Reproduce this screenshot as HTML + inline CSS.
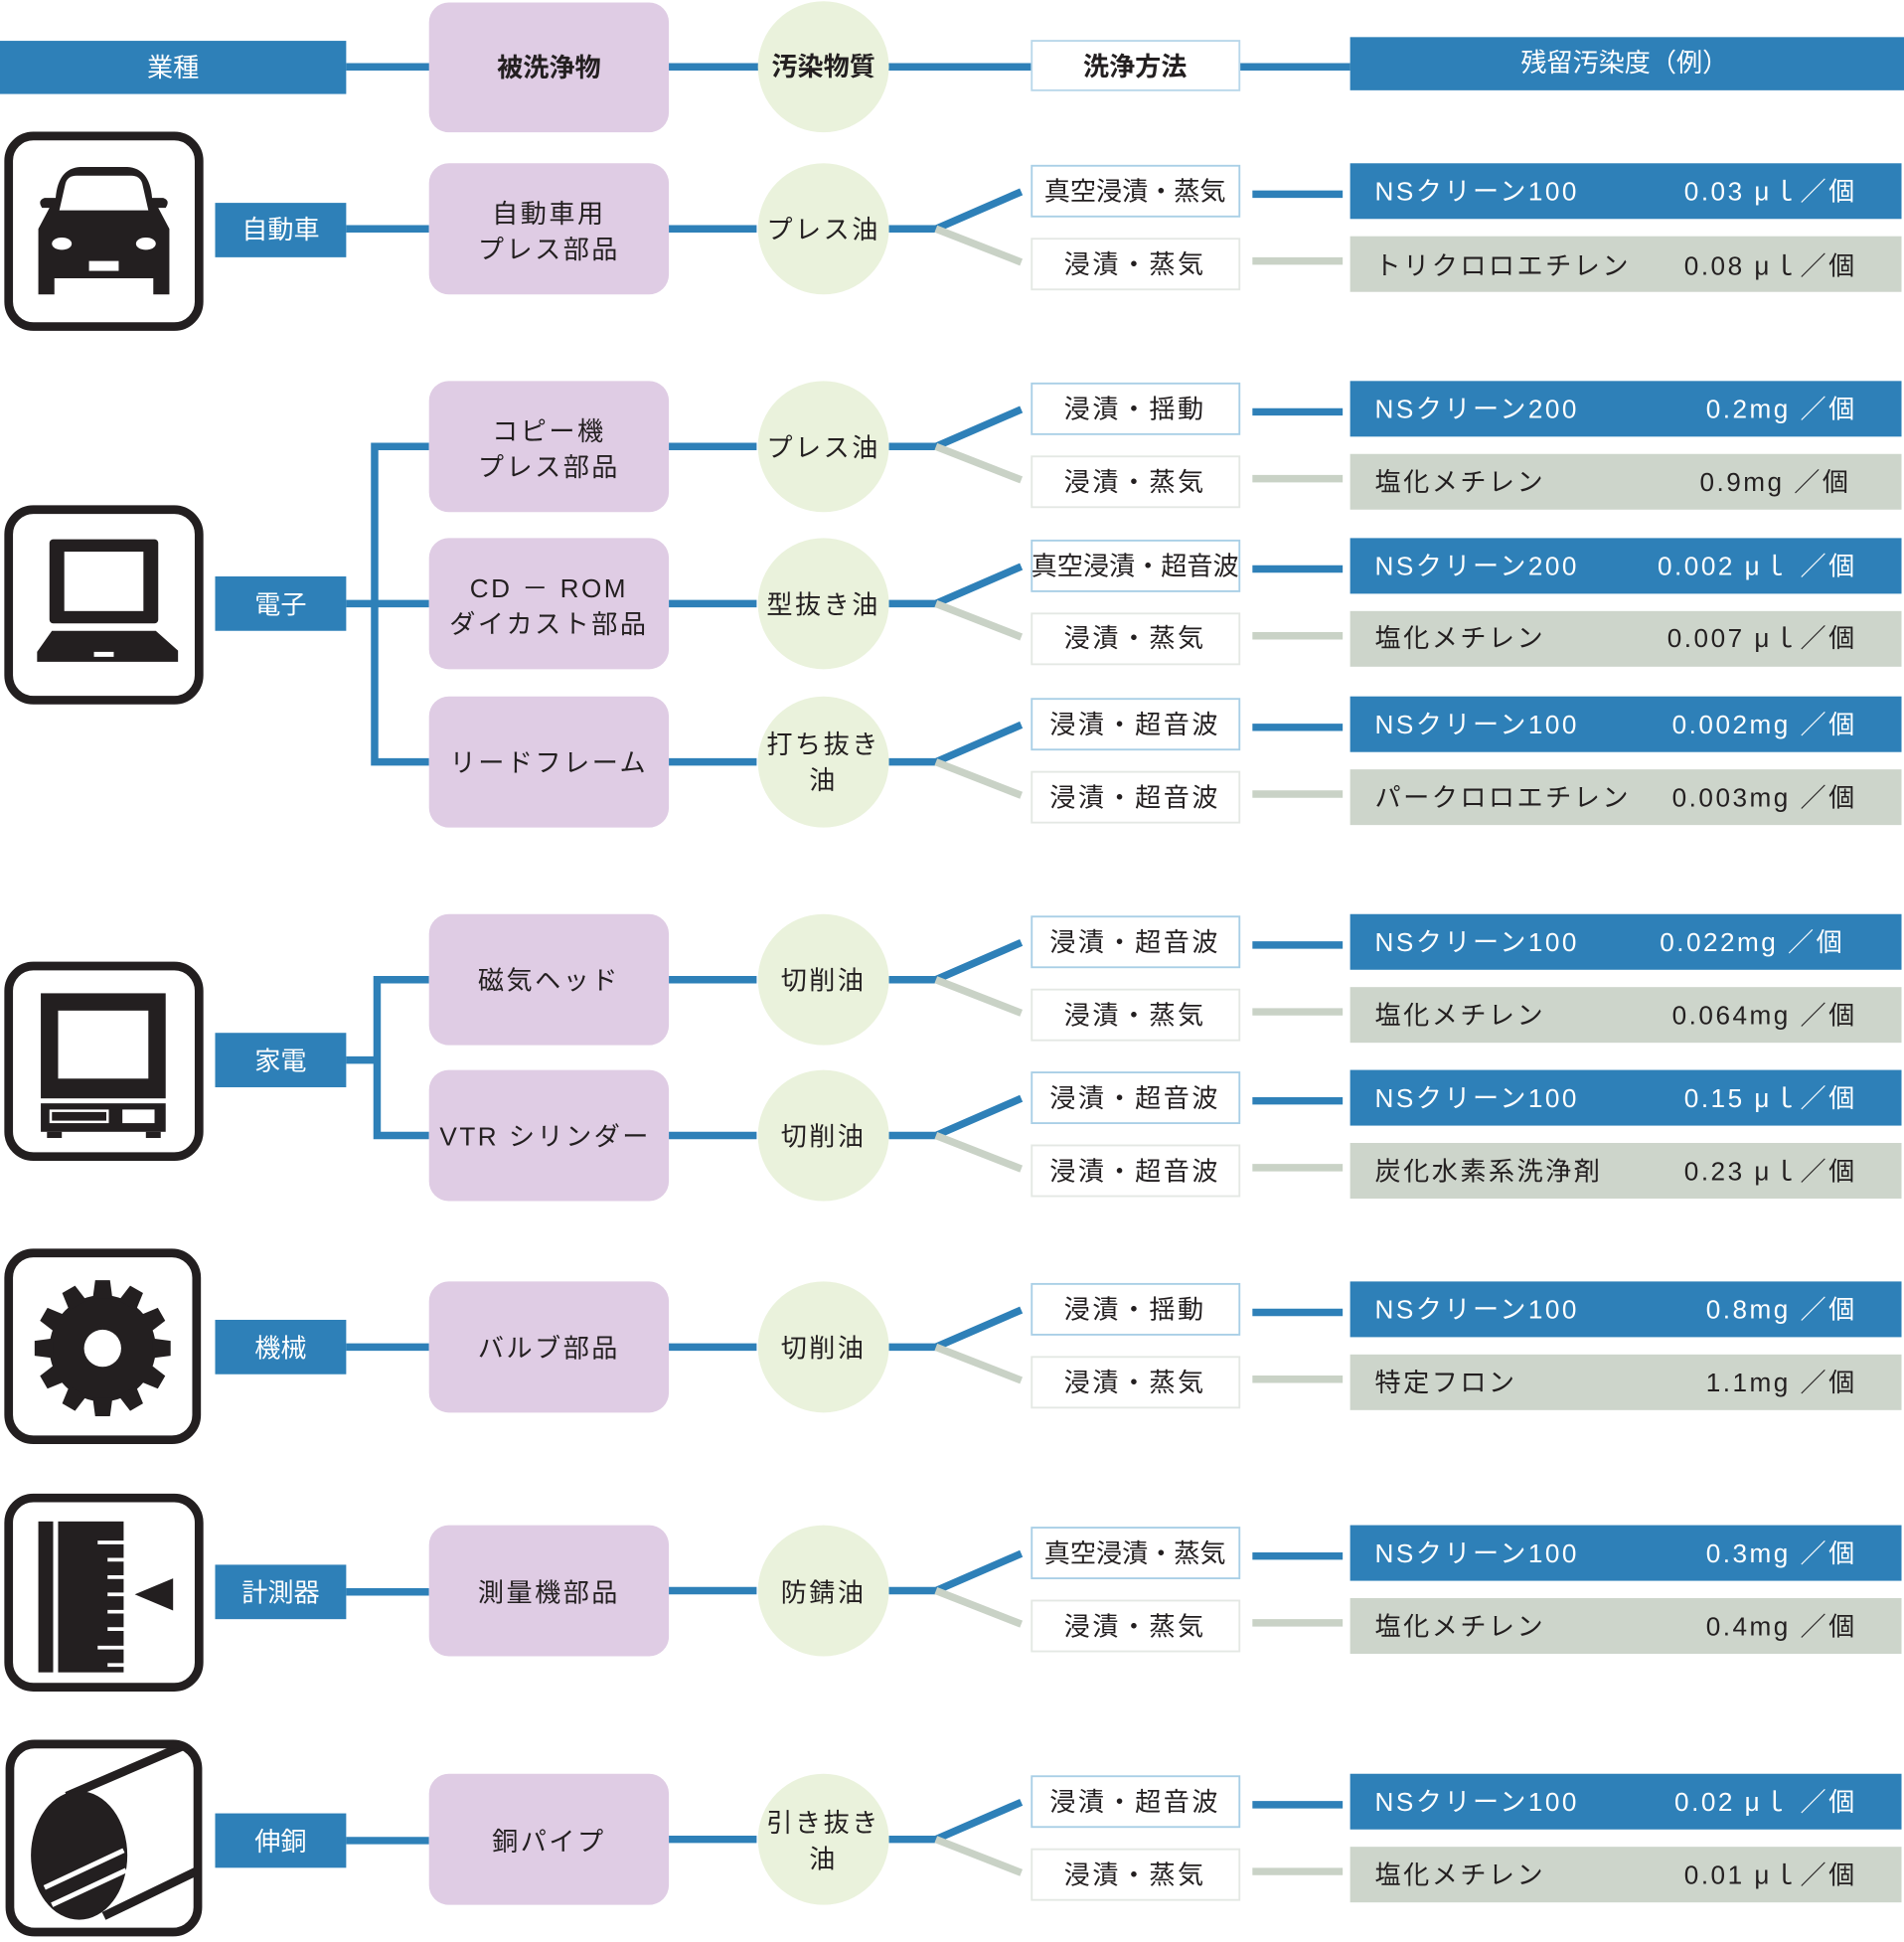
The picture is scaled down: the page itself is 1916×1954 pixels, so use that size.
<!DOCTYPE html>
<html><head><meta charset="utf-8"><style>
html,body{margin:0;padding:0;background:#fff;}
svg{display:block;}
text{font-family:"Liberation Sans","Noto Sans CJK JP",sans-serif;font-size:21px;fill:#231f20;}
.w{fill:#fff;}
.c{text-anchor:middle;}
.b{font-weight:bold;}
.ls{letter-spacing:2px;}
</style></head><body>
<svg width="1916" height="1954" viewBox="0 0 1540 1570" preserveAspectRatio="none" xmlns="http://www.w3.org/2000/svg">
<defs>
<g id="row">
  <rect x="347" y="-53" width="194" height="106" rx="16" fill="#dfcce4"/>
  <line x1="541" y1="0" x2="612" y2="0" stroke="#2e80b8" stroke-width="6"/>
  <circle cx="666" cy="0" r="53" fill="#eaf2dc"/>
  <polyline points="719,0 757,0 826,-30" fill="none" stroke="#2e80b8" stroke-width="6"/>
  <line x1="757" y1="0" x2="826" y2="27" stroke="#c9d2c6" stroke-width="6"/>
  <rect x="834.5" y="-51" width="168" height="41" fill="#fff" stroke="#a9cfe6" stroke-width="1.5"/>
  <rect x="834.5" y="8" width="168" height="41" fill="#fff" stroke="#e4e8e4" stroke-width="1.5"/>
  <line x1="1013" y1="-28" x2="1086" y2="-28" stroke="#2e80b8" stroke-width="6"/>
  <line x1="1013" y1="26" x2="1086" y2="26" stroke="#c9d2c6" stroke-width="6"/>
  <rect x="1092" y="-53" width="446" height="45" fill="#2e80b8"/>
  <rect x="1092" y="6" width="446" height="45" fill="#cdd5cb"/>
</g>
<clipPath id="pc"><rect x="10" y="1413" width="147" height="146" rx="17"/></clipPath>
</defs>

<!-- header -->
<line x1="280" y1="54" x2="1092" y2="54" stroke="#2e80b8" stroke-width="6"/>
<rect x="0" y="33" width="280" height="43" fill="#2e80b8"/>
<text x="140" y="62" class="w c">業種</text>
<rect x="347" y="2" width="194" height="105" rx="16" fill="#dfcce4"/>
<text x="444" y="62" class="c b">被洗浄物</text>
<circle cx="666" cy="54" r="53" fill="#eaf2dc"/>
<text x="666" y="61" class="c b">汚染物質</text>
<rect x="834.5" y="33" width="168" height="40" fill="#fff" stroke="#b9d7ea" stroke-width="1.5"/>
<text x="918" y="61" class="c b">洗浄方法</text>
<rect x="1092" y="30" width="448" height="43" fill="#2e80b8"/>
<text x="1314" y="58" class="w c">残留汚染度（例）</text>

<!-- industry labels & brackets -->
<g stroke="#2e80b8" stroke-width="6" fill="none">
<line x1="280" y1="185" x2="347" y2="185"/>
<polyline points="280,488 347,488"/>
<polyline points="347,361 303,361 303,616 347,616"/>
<line x1="280" y1="857" x2="305" y2="857"/>
<polyline points="347,792 305,792 305,918 347,918"/>
<line x1="280" y1="1089" x2="347" y2="1089"/>
<line x1="280" y1="1287" x2="347" y2="1287"/>
<line x1="280" y1="1488" x2="347" y2="1488"/>
</g>
<rect x="174" y="164" width="106" height="44" fill="#2e80b8"/><text x="227" y="193" class="w c">自動車</text>
<rect x="174" y="466" width="106" height="44" fill="#2e80b8"/><text x="227" y="496" class="w c">電子</text>
<rect x="174" y="835" width="106" height="44" fill="#2e80b8"/><text x="227" y="865" class="w c">家電</text>
<rect x="174" y="1067" width="106" height="44" fill="#2e80b8"/><text x="227" y="1097" class="w c">機械</text>
<rect x="174" y="1265" width="106" height="44" fill="#2e80b8"/><text x="227" y="1295" class="w c">計測器</text>
<rect x="174" y="1466" width="106" height="44" fill="#2e80b8"/><text x="227" y="1496" class="w c">伸銅</text>

<!-- car -->
<path d="M45,160 Q47,136 65,135 L103,135 Q121,136 123,160 L132,160 Q138,162 134,168 L128,168 L137,185 L137,238 L124,238 L124,225 L44,225 L44,238 L31,238 L31,185 L40,168 L34,168 Q30,162 36,160 Z" fill="#231f20"/>
<path d="M48,170 L53,148 Q55,142 62,142 L106,142 Q113,142 115,148 L120,170 Z" fill="#fff"/>
<ellipse cx="50" cy="197" rx="8" ry="5" fill="#fff"/><ellipse cx="118" cy="197" rx="8" ry="5" fill="#fff"/>
<rect x="72" y="211" width="24" height="8" fill="#fff"/>
<!-- laptop -->
<rect x="40" y="436" width="88" height="68" rx="3" fill="#231f20"/>
<rect x="52" y="446" width="64" height="48" fill="#fff"/>
<path d="M42,510 L126,510 L144,526 L144,535 L30,535 L30,527 Z" fill="#231f20"/>
<rect x="76" y="527" width="16" height="4" fill="#fff"/>
<!-- TV -->
<rect x="33" y="803" width="101" height="85" fill="#231f20"/>
<rect x="47" y="817" width="73" height="55" fill="#fff"/>
<rect x="33" y="892" width="101" height="23" fill="#231f20"/>
<rect x="41" y="898" width="46" height="9" fill="none" stroke="#fff" stroke-width="2"/>
<rect x="99" y="897" width="26" height="11" fill="#fff"/>
<rect x="38" y="915" width="12" height="5" fill="#231f20"/><rect x="118" y="915" width="12" height="5" fill="#231f20"/>
<!-- gear -->
<g transform="translate(83,1090)" fill="#231f20">
<circle r="43"/>
<g id="t"><polygon points="-8,-40 8,-40 6,-55 -6,-55"/></g>
<use href="#t" transform="rotate(30)"/><use href="#t" transform="rotate(60)"/><use href="#t" transform="rotate(90)"/><use href="#t" transform="rotate(120)"/><use href="#t" transform="rotate(150)"/><use href="#t" transform="rotate(180)"/><use href="#t" transform="rotate(210)"/><use href="#t" transform="rotate(240)"/><use href="#t" transform="rotate(270)"/><use href="#t" transform="rotate(300)"/><use href="#t" transform="rotate(330)"/>
<circle r="15" fill="#fff"/>
</g>
<!-- ruler -->
<rect x="31" y="1230" width="12" height="122" fill="#231f20"/>
<rect x="47" y="1230" width="53" height="122" fill="#231f20"/>
<g stroke="#fff" stroke-width="3">
<line x1="79" y1="1247" x2="101" y2="1247"/><line x1="87" y1="1261" x2="101" y2="1261"/><line x1="87" y1="1275" x2="101" y2="1275"/><line x1="87" y1="1289" x2="101" y2="1289"/><line x1="87" y1="1303" x2="101" y2="1303"/><line x1="87" y1="1317" x2="101" y2="1317"/><line x1="79" y1="1332" x2="101" y2="1332"/><line x1="87" y1="1346" x2="101" y2="1346"/>
</g>
<polygon points="109,1289 140,1276 140,1302" fill="#231f20"/>
<!-- pipe -->
<g clip-path="url(#pc)">
<polygon points="54,1452 136,1417 170,1417 170,1495 84,1549" fill="#fff"/>
<line x1="54" y1="1452" x2="175" y2="1400" stroke="#231f20" stroke-width="7"/>
<line x1="84" y1="1549" x2="175" y2="1505" stroke="#231f20" stroke-width="7"/>
</g>
<ellipse cx="64" cy="1500" rx="39" ry="52" fill="#231f20"/>
<line x1="36" y1="1526" x2="100" y2="1496" stroke="#fff" stroke-width="4"/>
<line x1="42" y1="1540" x2="102" y2="1512" stroke="#fff" stroke-width="4"/>

<!-- icon frames -->
<g fill="none" stroke="#231f20" stroke-width="7">
<rect x="7" y="110" width="154" height="154" rx="20"/>
<rect x="7" y="412" width="154" height="154" rx="20"/>
<rect x="7" y="781" width="154" height="154" rx="20"/>
<rect x="7" y="1013" width="152" height="151" rx="20"/>
<rect x="7" y="1211" width="154" height="153" rx="20"/>
<rect x="8" y="1410" width="152" height="152" rx="20"/>
</g>

<!-- rows -->
<use href="#row" y="185"/>
<use href="#row" y="361"/>
<use href="#row" y="488"/>
<use href="#row" y="616"/>
<use href="#row" y="792"/>
<use href="#row" y="918"/>
<use href="#row" y="1089"/>
<use href="#row" y="1286"/>
<use href="#row" y="1487"/>

<!-- row texts -->
<g class="ls">
<text x="444" y="180" class="c">自動車用</text><text x="444" y="209" class="c">プレス部品</text>
<text x="666" y="193" class="c">プレス油</text>
<text x="918" y="162" class="c" style="letter-spacing:0">真空浸漬・蒸気</text><text x="918" y="221" class="c">浸漬・蒸気</text>
<text x="1112" y="162" class="w">NSクリーン100</text><text x="1502" y="162" class="w" text-anchor="end">0.03 μｌ／個</text>
<text x="1112" y="222">トリクロロエチレン</text><text x="1502" y="222" text-anchor="end">0.08 μｌ／個</text>

<text x="444" y="356" class="c">コピー機</text><text x="444" y="385" class="c">プレス部品</text>
<text x="666" y="369" class="c">プレス油</text>
<text x="918" y="338" class="c">浸漬・揺動</text><text x="918" y="397" class="c">浸漬・蒸気</text>
<text x="1112" y="338" class="w">NSクリーン200</text><text x="1502" y="338" class="w" text-anchor="end">0.2mg ／個</text>
<text x="1112" y="397">塩化メチレン</text><text x="1497" y="397" text-anchor="end">0.9mg ／個</text>

<text x="444" y="483" class="c">CD － ROM</text><text x="444" y="512" class="c">ダイカスト部品</text>
<text x="666" y="496" class="c">型抜き油</text>
<text x="918" y="465" class="c" style="letter-spacing:0">真空浸漬・超音波</text><text x="918" y="523" class="c">浸漬・蒸気</text>
<text x="1112" y="465" class="w">NSクリーン200</text><text x="1502" y="465" class="w" text-anchor="end">0.002 μｌ ／個</text>
<text x="1112" y="523">塩化メチレン</text><text x="1502" y="523" text-anchor="end">0.007 μｌ／個</text>

<text x="444" y="624" class="c">リードフレーム</text>
<text x="666" y="609" class="c">打ち抜き</text><text x="666" y="638" class="c">油</text>
<text x="918" y="593" class="c">浸漬・超音波</text><text x="918" y="652" class="c">浸漬・超音波</text>
<text x="1112" y="593" class="w">NSクリーン100</text><text x="1502" y="593" class="w" text-anchor="end">0.002mg ／個</text>
<text x="1112" y="652">パークロロエチレン</text><text x="1502" y="652" text-anchor="end">0.003mg ／個</text>

<text x="444" y="800" class="c">磁気ヘッド</text>
<text x="666" y="800" class="c">切削油</text>
<text x="918" y="769" class="c">浸漬・超音波</text><text x="918" y="828" class="c">浸漬・蒸気</text>
<text x="1112" y="769" class="w">NSクリーン100</text><text x="1492" y="769" class="w" text-anchor="end">0.022mg ／個</text>
<text x="1112" y="828">塩化メチレン</text><text x="1502" y="828" text-anchor="end">0.064mg ／個</text>

<text x="441" y="926" class="c">VTR シリンダー</text>
<text x="666" y="926" class="c">切削油</text>
<text x="918" y="895" class="c">浸漬・超音波</text><text x="918" y="954" class="c">浸漬・超音波</text>
<text x="1112" y="895" class="w">NSクリーン100</text><text x="1502" y="895" class="w" text-anchor="end">0.15 μｌ／個</text>
<text x="1112" y="954">炭化水素系洗浄剤</text><text x="1502" y="954" text-anchor="end">0.23 μｌ／個</text>

<text x="444" y="1097" class="c">バルブ部品</text>
<text x="666" y="1097" class="c">切削油</text>
<text x="918" y="1066" class="c">浸漬・揺動</text><text x="918" y="1125" class="c">浸漬・蒸気</text>
<text x="1112" y="1066" class="w">NSクリーン100</text><text x="1502" y="1066" class="w" text-anchor="end">0.8mg ／個</text>
<text x="1112" y="1125">特定フロン</text><text x="1502" y="1125" text-anchor="end">1.1mg ／個</text>

<text x="444" y="1295" class="c">測量機部品</text>
<text x="666" y="1295" class="c">防錆油</text>
<text x="918" y="1263" class="c" style="letter-spacing:0">真空浸漬・蒸気</text><text x="918" y="1322" class="c">浸漬・蒸気</text>
<text x="1112" y="1263" class="w">NSクリーン100</text><text x="1502" y="1263" class="w" text-anchor="end">0.3mg ／個</text>
<text x="1112" y="1322">塩化メチレン</text><text x="1502" y="1322" text-anchor="end">0.4mg ／個</text>

<text x="444" y="1496" class="c">銅パイプ</text>
<text x="666" y="1481" class="c">引き抜き</text><text x="666" y="1510" class="c">油</text>
<text x="918" y="1464" class="c">浸漬・超音波</text><text x="918" y="1523" class="c">浸漬・蒸気</text>
<text x="1112" y="1464" class="w">NSクリーン100</text><text x="1502" y="1464" class="w" text-anchor="end">0.02 μｌ ／個</text>
<text x="1112" y="1523">塩化メチレン</text><text x="1502" y="1523" text-anchor="end">0.01 μｌ／個</text>
</g>
</svg>
</body></html>
